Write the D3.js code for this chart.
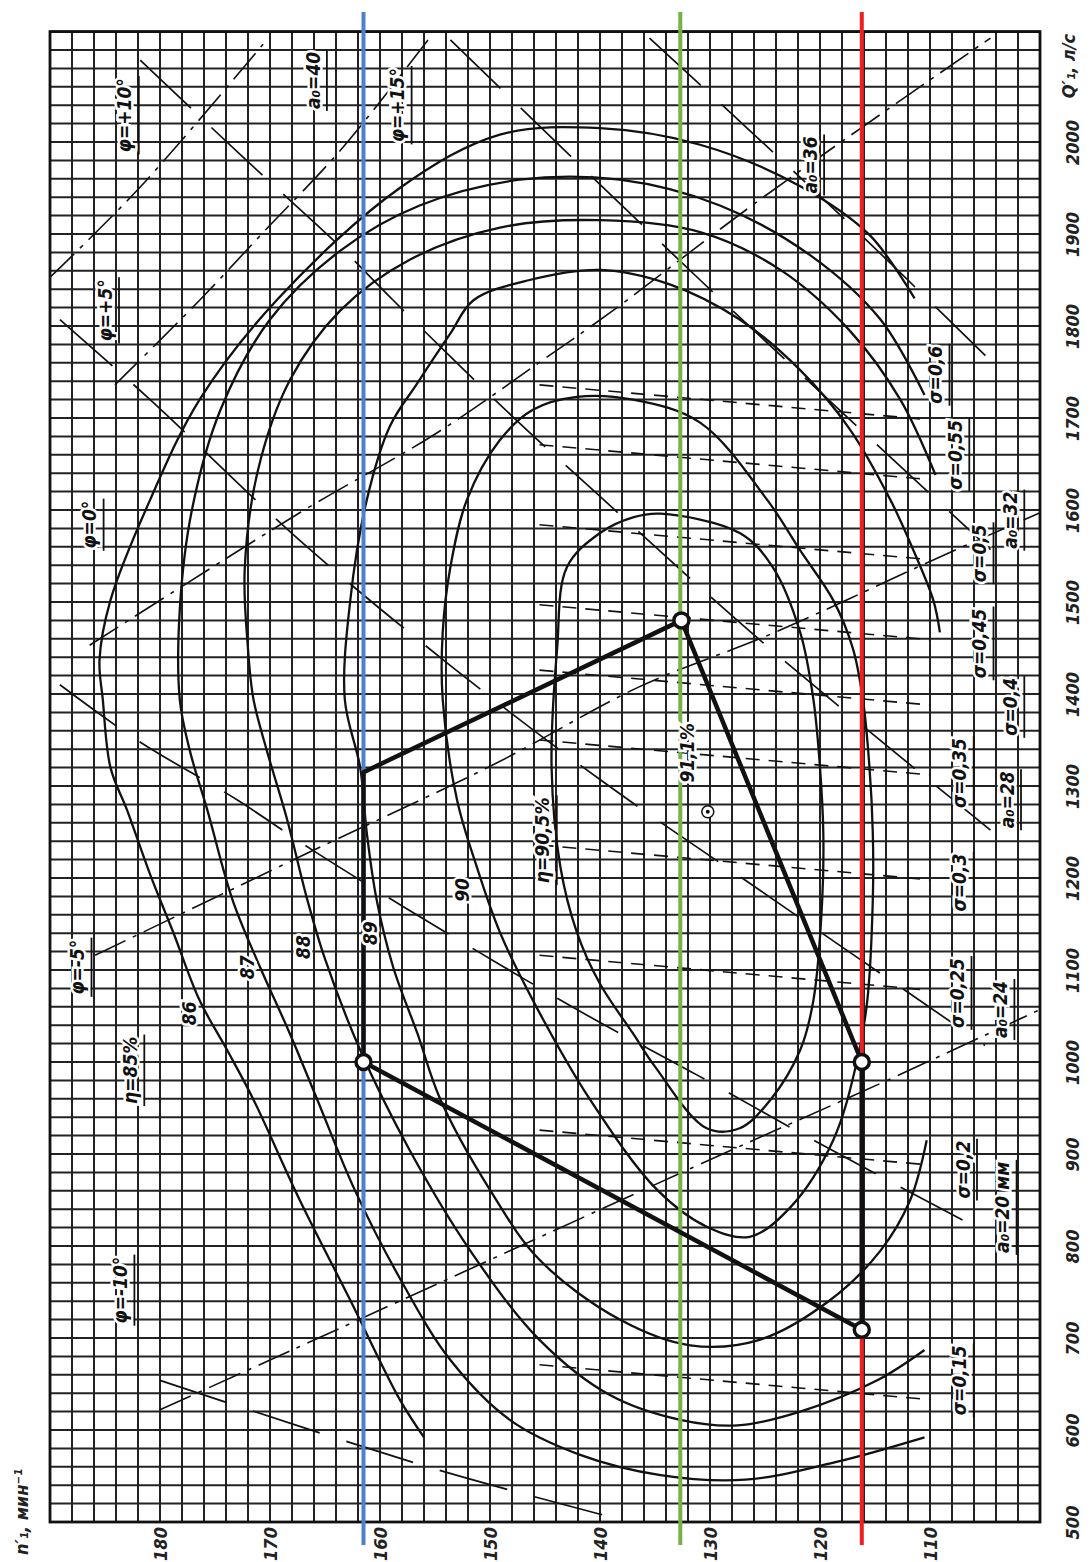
<!DOCTYPE html>
<html>
<head>
<meta charset="utf-8">
<script src="https://cdn.jsdelivr.net/npm/d3@7"></script>
<style>
  body { margin: 0; background: #fff; }
  text { font-family: "DejaVu Sans Condensed", "DejaVu Sans", sans-serif; font-style: italic; }
</style>
</head>
<body>
<svg id="chart"></svg>
<script>
// axis ticks
const nTicks = [180, 170, 160, 150, 140, 130, 120, 110];
const qTicks = [500, 600, 700, 800, 900, 1000, 1100, 1200, 1300, 1400, 1500, 1600, 1700, 1800, 1900, 2000];

// efficiency contours, points as [n1', Q1']
const eta86 = [[111.4,1830],[115.5,1899],[121.8,1952],[130.9,1997],[140,2015],[149.1,2008],[158.2,1950],[169.4,1828],[176.4,1720],[180.9,1611],[184.5,1502],[185.5,1437],[185.2,1394],[184.5,1320],[183,1274],[180.9,1204],[178.8,1141],[176.4,1067],[173.9,1013],[171.5,959],[167.3,850],[162.7,741],[158.2,633],[156,592]];
const eta87 = [[110.5,1725],[114.5,1807],[120.9,1877],[129.1,1931],[138.2,1959],[147.3,1959],[156.4,1931],[163.6,1882],[170,1807],[174.5,1709],[177.1,1600],[178.2,1492],[178.2,1394],[177.3,1339],[175.7,1274],[173.4,1176],[170.9,1103],[168.2,1031],[165.7,959],[162.3,861],[158.2,765],[153.6,676],[148.2,611],[141.8,573],[134.5,551],[126.8,546],[118.6,565],[110.5,592]];
const eta88 = [[109.5,1638],[112.7,1720],[117.3,1795],[123.6,1861],[130.9,1902],[140,1915],[149.1,1907],[157.3,1872],[163.6,1817],[168.2,1741],[171.1,1643],[172.3,1535],[172,1449],[171.5,1394],[170.3,1339],[168.5,1266],[166.6,1176],[165,1112],[161.8,1013],[157.3,904],[151.8,795],[145.5,698],[139.1,638],[132.7,611],[127.5,605],[121.8,620],[114.8,654],[110.5,687]];
const eta89 = [[109.1,1467],[109.7,1502],[111.5,1556],[113.6,1611],[117.3,1688],[121.8,1752],[127.3,1807],[133.6,1845],[140,1861],[146.4,1850],[151.5,1828],[153.6,1792],[156.6,1738],[159.1,1691],[161.2,1611],[162.7,1502],[163.2,1394],[161.8,1320],[161.2,1249],[160.3,1176],[158.8,1103],[156.6,1031],[154.5,959],[150,861],[145.5,785],[138.2,720],[131.8,692],[125.5,698],[119.1,741],[114.5,795],[111.8,850],[110.3,915]];
const eta90 = [[142.1,1723],[137,1720],[130.9,1695],[124.8,1611],[121.8,1556],[118.8,1502],[117,1449],[116.1,1394],[115.5,1320],[115.2,1249],[115.2,1176],[115.7,1067],[116.6,1003],[118.8,915],[122.7,842],[126.4,810],[130.3,821],[134.8,861],[140.9,959],[146.1,1067],[149.1,1141],[151.2,1212],[153,1285],[154.3,1394],[154.3,1467],[153.6,1538],[152.1,1611],[149.1,1676],[146.1,1709]];
const eta905 = [[134.5,1596],[127.3,1575],[124.3,1538],[121.8,1467],[120.6,1394],[120,1320],[119.7,1249],[119.8,1176],[120.6,1067],[121.8,1013],[124.5,959],[127.3,928],[130.3,928],[135,995],[137,1031],[140,1085],[142.1,1141],[143.6,1212],[144.4,1320],[143.9,1449],[143,1538],[140,1575],[137,1592]];

// blade angle lines (dash-dot)
const phiLines = [
  [[190,1853],[181.8,1951],[170.3,2111]],
  [[184.1,1736],[176.4,1828],[170.6,1902],[163.6,1991],[155.5,2113]],
  [[186.4,1453],[167.3,1597],[154.8,1684],[145.2,1763],[138.8,1817],[125.5,1937],[104.5,2113]],
  [[185.9,1116],[167.3,1223],[149.4,1325],[136.4,1408],[124.3,1466],[109.1,1549],[100,1597]],
  [[180,622],[170,676],[129.4,897],[113.9,980],[100,1057]]
];
// guide vane opening lines
const a0Lines = [
  [[189.1,1410],[182.1,1350],[173,1285],[166.1,1230],[154.3,1143],[141.5,1053],[131.2,986],[120.6,915],[104.8,814]],
  [[189.1,1807],[180.9,1720],[167.3,1567],[153.4,1429],[140,1307],[125.5,1187],[105,1018]],
  [[181.8,2089],[172.5,1984],[163.6,1886],[158.8,1828],[147.9,1701],[140.3,1618],[125.5,1459],[104.5,1252]],
  [[153.6,2111],[130.9,1850],[104.5,1557]],
  [[135.5,2113],[118.2,1921],[103.6,1752]],
  [[180,654],[155.4,559],[137.3,500]]
];
// cavitation coefficient lines
const sigmaLines = [
  [[145.5,1736],[110,1698]],
  [[145.5,1671],[110,1633]],
  [[145.5,1584],[110,1546]],
  [[145.5,1497],[110,1459]],
  [[145.5,1426],[110,1388]],
  [[145.5,1350],[110,1312]],
  [[145.5,1236],[110,1198]],
  [[145.5,1116],[110,1078]],
  [[145.5,926],[110,888]],
  [[145.5,671],[110,633]]
];

// operating zone polygon
const zone = [[161.5,1000],[161.5,1315],[132.6,1480],[116.2,1000],[116.2,709]];
const zoneCircles = [[161.5,1000],[132.6,1480],[116.2,1000],[116.2,709]];
const optimum = [130.2, 1272];

// head lines
const headLines = [
  { n: 161.5, color: "#4f80c9" },
  { n: 132.7, color: "#74b148" },
  { n: 116.2, color: "#ee2020" }
];

// annotations
const labels = [
  { t: "φ=+10°", p: [183.2,2029], bar: true },
  { t: "φ=+5°", p: [185,1817], bar: true },
  { t: "φ=0°", p: [186.4,1584], bar: true },
  { t: "φ=-5°", p: [187.5,1103], bar: true },
  { t: "φ=-10°", p: [183.6,752], bar: true },
  { t: "φ=+15°", p: [158.4,2040], bar: true },
  { t: "a₀=40", p: [166.1,2067], bar: true },
  { t: "a₀=36", p: [120.9,1975], bar: true },
  { t: "a₀=32", p: [102.7,1589], bar: true },
  { t: "a₀=28", p: [103,1285], bar: true },
  { t: "a₀=24", p: [103.6,1057], bar: true },
  { t: "a₀=20 мм", p: [103.4,842], bar: true },
  { t: "σ=0,6", p: [109.5,1747], bar: true },
  { t: "σ=0,55", p: [107.7,1660], bar: true },
  { t: "σ=0,5", p: [105.5,1553], bar: true },
  { t: "σ=0,45", p: [105.5,1455], bar: true },
  { t: "σ=0,4", p: [102.7,1386], bar: true },
  { t: "σ=0,35", p: [107.3,1314], bar: true },
  { t: "σ=0,3", p: [107.3,1195], bar: true },
  { t: "σ=0,25", p: [107.5,1075], bar: true },
  { t: "σ=0,2", p: [107,883], bar: true },
  { t: "σ=0,15", p: [107.3,654], bar: true },
  { t: "η=85%", p: [182.7,991], bar: true },
  { t: "86", p: [177.3,1053] },
  { t: "87", p: [172.1,1103] },
  { t: "88", p: [167,1125] },
  { t: "89", p: [160.9,1140] },
  { t: "90", p: [152.5,1187] },
  { t: "η=90,5%", p: [145.2,1241], bar: true },
  { t: "91,1%", p: [132.1,1336] }
];

const width = 1091, height = 1562;
const svg = d3.select("#chart").attr("width", width).attr("height", height);

const x = d3.scaleLinear().domain([190, 100]).range([50, 1040]);
const y = d3.scaleLinear().domain([500, 2120]).range([1522, 31.6]);

// grid
const grid = svg.append("g").attr("stroke", "#222").attr("stroke-width", 2);
grid.selectAll(".gv").data(d3.range(100, 191, 2)).enter().append("line")
  .attr("x1", d => x(d)).attr("x2", d => x(d))
  .attr("y1", y(500)).attr("y2", y(2120));
grid.selectAll(".gh").data(d3.range(500, 2121, 20)).enter().append("line")
  .attr("x1", x(190)).attr("x2", x(100))
  .attr("y1", d => y(d)).attr("y2", d => y(d));
svg.append("rect")
  .attr("x", x(190)).attr("y", y(2120))
  .attr("width", x(100) - x(190)).attr("height", y(500) - y(2120))
  .attr("fill", "none").attr("stroke", "#111").attr("stroke-width", 2.8);

// axes (labels only, rotated like the scan)
const axisN = svg.append("g").attr("transform", `translate(0,${y(500)})`)
  .call(d3.axisBottom(x).tickValues(nTicks).tickSize(0).tickFormat(d3.format("d")));
axisN.select(".domain").remove();
axisN.selectAll("text")
  .attr("transform", "translate(0,22) rotate(-90)")
  .attr("y", 0).attr("dy", "0.35em").attr("x", 0)
  .style("text-anchor", "middle");

const axisQ = svg.append("g").attr("transform", `translate(${x(100)},0)`)
  .call(d3.axisRight(y).tickValues(qTicks).tickSize(0).tickFormat(d3.format("d")));
axisQ.select(".domain").remove();
axisQ.selectAll("text")
  .attr("transform", "translate(33,0) rotate(-90)")
  .attr("x", 0).attr("y", 0).attr("dy", "0.35em")
  .style("text-anchor", "middle");
svg.selectAll(".tick text")
  .attr("font-size", 18).attr("font-weight", "bold").attr("fill", "#222")
  .attr("font-family", "DejaVu Sans Condensed");

svg.append("text").attr("transform", `translate(28,1512) rotate(-90)`)
  .attr("font-size", 18).attr("font-weight", "bold").attr("fill", "#222")
  .attr("text-anchor", "middle").text("n′₁, мин⁻¹");
svg.append("text").attr("transform", `translate(1075,66) rotate(-90)`)
  .attr("font-size", 18).attr("font-weight", "bold").attr("fill", "#222")
  .attr("text-anchor", "middle").text("Q′₁, л/с");

const line = d3.line().x(d => x(d[0])).y(d => y(d[1]));
const smooth = d3.line().x(d => x(d[0])).y(d => y(d[1])).curve(d3.curveCatmullRom);
const smoothClosed = d3.line().x(d => x(d[0])).y(d => y(d[1])).curve(d3.curveCatmullRomClosed);

const marks = svg.append("g").attr("fill", "none").attr("stroke", "#111");

marks.selectAll(".sig").data(sigmaLines).enter().append("path")
  .attr("d", line).attr("stroke-width", 1.6).attr("stroke-dasharray", "14,9");
marks.selectAll(".a0").data(a0Lines).enter().append("path")
  .attr("d", smooth).attr("stroke-width", 1.7).attr("stroke-dasharray", "70,28");
marks.selectAll(".phi").data(phiLines).enter().append("path")
  .attr("d", smooth).attr("stroke-width", 1.6).attr("stroke-dasharray", "34,8,4,8");

marks.selectAll(".eta").data([eta86, eta87, eta88, eta89]).enter().append("path")
  .attr("d", smooth).attr("stroke-width", 2.3);
marks.selectAll(".etac").data([eta90, eta905]).enter().append("path")
  .attr("d", smoothClosed).attr("stroke-width", 2.3);

// head lines
svg.selectAll(".head").data(headLines).enter().append("line")
  .attr("x1", d => x(d.n)).attr("x2", d => x(d.n))
  .attr("y1", 12).attr("y2", 1545)
  .attr("stroke", d => d.color).attr("stroke-width", 4);

// zone
svg.append("path").datum(zone)
  .attr("d", d3.line().x(d => x(d[0])).y(d => y(d[1])).curve(d3.curveLinearClosed))
  .attr("fill", "none").attr("stroke", "#111").attr("stroke-width", 4.5)
  .attr("stroke-linejoin", "round");
svg.selectAll(".zc").data(zoneCircles).enter().append("circle")
  .attr("cx", d => x(d[0])).attr("cy", d => y(d[1])).attr("r", 7.5)
  .attr("fill", "#fff").attr("stroke", "#111").attr("stroke-width", 3.5);

svg.append("circle").attr("cx", x(optimum[0])).attr("cy", y(optimum[1])).attr("r", 6)
  .attr("fill", "#fff").attr("stroke", "#111").attr("stroke-width", 1.5);
svg.append("circle").attr("cx", x(optimum[0])).attr("cy", y(optimum[1])).attr("r", 2)
  .attr("fill", "#111");

// annotations
const ann = svg.selectAll(".ann").data(labels).enter().append("g")
  .attr("transform", d => `translate(${x(d.p[0])},${y(d.p[1])}) rotate(-90)`);
ann.append("text")
  .attr("text-anchor", "middle").attr("dy", "0.35em")
  .attr("font-size", 19).attr("font-weight", "bold").attr("fill", "#111")
  .attr("stroke", "#fff").attr("stroke-width", 5).attr("paint-order", "stroke")
  .text(d => d.t);
ann.filter(d => d.bar).each(function (d) {
  const g = d3.select(this);
  const w = g.select("text").node().getComputedTextLength();
  g.append("line")
    .attr("x1", -w / 2 - 2).attr("x2", w / 2 + 2)
    .attr("y1", 14).attr("y2", 14)
    .attr("stroke", "#111").attr("stroke-width", 1.8);
});
</script>
</body>
</html>
